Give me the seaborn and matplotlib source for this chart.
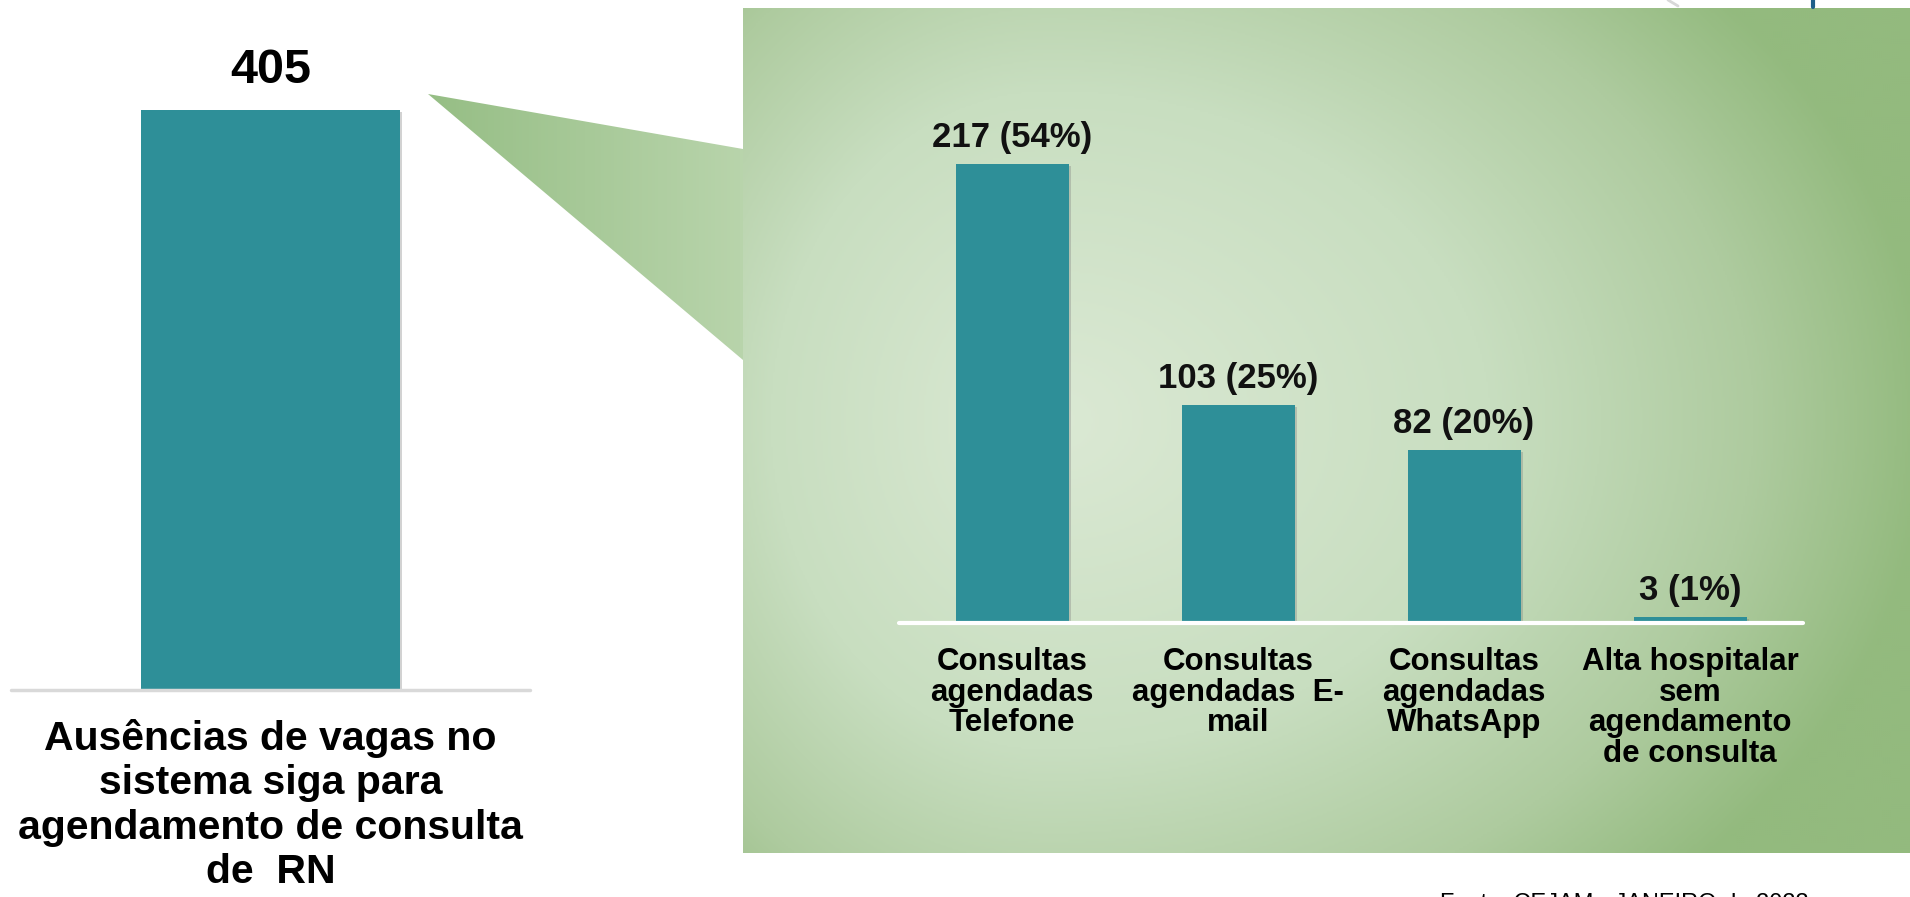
import numpy as np
import pandas as pd
import seaborn as sns
import matplotlib.pyplot as plt
import matplotlib.patheffects as pe
from matplotlib.patches import Polygon
from matplotlib.colors import LinearSegmentedColormap

# values
total_label = ["Ausências de vagas no\nsistema siga para\nagendamento de consulta\nde  RN"]
total_value = [405]

categories = ["Consultas\nagendadas\nTelefone",
              "Consultas\nagendadas  E-\nmail",
              "Consultas\nagendadas\nWhatsApp",
              "Alta hospitalar\nsem\nagendamento\nde consulta"]
values = [217, 103, 82, 3]
percents = [54, 25, 20, 1]

source = "Fonte: CEJAM - JANEIRO de 2023"

teal = "#2e8f98"
W, H = 1910, 897

sns.set_style("white")
plt.rcParams['font.family'] = ['Liberation Sans', 'DejaVu Sans']

fig = plt.figure(figsize=(W / 100, H / 100), dpi=100)


def box(x0, y0, x1, y1):
    # pixel box (origin top-left) -> figure fraction
    return [x0 / W, 1 - y1 / H, (x1 - x0) / W, (y1 - y0) / H]


# background: green panel + callout
bg = fig.add_axes([0, 0, 1, 1], zorder=0)
green = LinearSegmentedColormap.from_list(
    'g', [(0, '#dbe9d4'), (0.5, '#c8dec0'), (0.8, '#aecb9f'), (1, '#93ba7e')])
yy, xx = np.mgrid[8:853:2, 743:1910:2]
sx = np.where(xx < 1050, 560, 880)
t = np.sqrt(((xx - 1050) / sx) ** 2 + ((yy - 420) / 660) ** 2)
bg.imshow(np.clip(t, 0, 1), cmap=green, vmin=0, vmax=1, aspect='auto',
          extent=[743, 1910, 853, 8], interpolation='bilinear')

tri = Polygon([(428, 94), (743, 149), (743, 360)], closed=True,
              facecolor='none', edgecolor='none')
bg.add_patch(tri)
callout = LinearSegmentedColormap.from_list('c', ['#96be85', '#b8d4ab'])
im = bg.imshow(np.tile(np.linspace(0, 1, 100), (2, 1)), cmap=callout,
               aspect='auto', extent=[428, 743, 360, 94])
im.set_clip_path(tri)

# bit of logo at top right
bg.plot([1813, 1813], [0, 7], color='#1f5f8a', lw=3)
bg.plot([1668, 1678], [0, 6], color='#d8d8d8', lw=2)

bg.set_xlim(0, W)
bg.set_ylim(H, 0)
bg.axis('off')

shadow = [pe.SimplePatchShadow(offset=(1.5, -1.5), shadow_rgbFace='gray', alpha=0.35), pe.Normal()]

# left chart: total
ax1 = fig.add_axes(box(11, 690 - 450 * 1.432, 530, 690), zorder=2)
df1 = pd.DataFrame({'cat': total_label, 'val': total_value})
sns.barplot(data=df1, x='cat', y='val', color=teal, saturation=1, width=0.5,
            linewidth=0, ax=ax1)
for p in ax1.patches:
    p.set_path_effects(shadow)
ax1.bar_label(ax1.containers[0], labels=[str(v) for v in total_value], padding=12,
              fontsize=35, fontweight='bold', color='black')
ax1.set_xlim(-0.5, 0.5)
ax1.set_ylim(0, 450)
ax1.axhline(0, color='#d9d9d9', lw=2.5, clip_on=False)
ax1.set_xlabel('')
ax1.set_ylabel('')
ax1.set_yticks([])
ax1.tick_params(axis='x', length=0, pad=21, colors='black')
for lab in ax1.get_xticklabels():
    lab.set_fontsize(29.5)
    lab.set_fontweight('bold')
    lab.set_linespacing(1.21)
sns.despine(ax=ax1, left=True, bottom=True)
ax1.patch.set_alpha(0)

# right chart: breakdown
ax2 = fig.add_axes(box(899, 623 - 250 * 2.115, 1803, 623), zorder=2)
df2 = pd.DataFrame({'cat': categories, 'val': values})
sns.barplot(data=df2, x='cat', y='val', color=teal, saturation=1, width=0.5,
            linewidth=0, ax=ax2)
for p in ax2.patches:
    p.set_path_effects(shadow)
ax2.bar_label(ax2.containers[0], labels=[f"{v} ({p}%)" for v, p in zip(values, percents)],
              padding=7, fontsize=25, fontweight='bold', color='#111111')
ax2.set_xlim(-0.5, 3.5)
ax2.set_ylim(0, 250)
ax2.axhline(0, color='white', lw=3, clip_on=False)
ax2.set_xlabel('')
ax2.set_ylabel('')
ax2.set_yticks([])
ax2.tick_params(axis='x', length=0, pad=17, colors='black')
for lab in ax2.get_xticklabels():
    lab.set_fontsize(22.5)
    lab.set_fontweight('bold')
    lab.set_linespacing(1.04)
sns.despine(ax=ax2, left=True, bottom=True)
ax2.patch.set_alpha(0)

fig.text(1440 / W, 1 - 893 / H, source, fontsize=17, va='top', ha='left', color='black')

fig.savefig('out.png', dpi=100)
